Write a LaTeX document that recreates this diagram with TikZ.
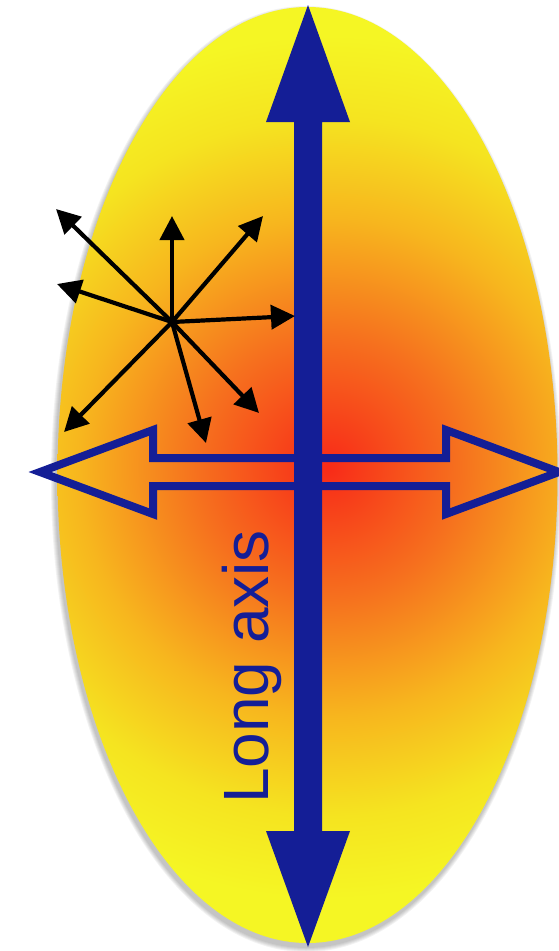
\documentclass[tikz,border=0pt]{standalone}
\usepackage{fontspec}
\setmainfont{Liberation Sans}
\usetikzlibrary{arrows.meta}
\definecolor{axisblue}{RGB}{20,30,150}
\definecolor{eggred}{RGB}{248,42,24}
\definecolor{eggorange}{RGB}{246,112,30}
\definecolor{eggamber}{RGB}{247,182,30}
\definecolor{egglight}{RGB}{245,228,32}
\definecolor{eggyellow}{RGB}{245,246,36}
\pgfdeclareradialshading{eggglow}{\pgfpoint{0bp}{0bp}}{color(0bp)=(eggred);
  color(6.8bp)=(eggorange); color(13bp)=(eggamber); color(18.2bp)=(egglight);
  color(22.5bp)=(eggyellow); color(50bp)=(eggyellow)}

\begin{document}
\begin{tikzpicture}[x=1pt,y=-1pt,
  spoke/.style={line width=4.2pt,-{Triangle[length=24pt,width=24pt]}},
  longaxis/.style={fill=axisblue},
  shortaxis/.style={draw=axisblue,line width=8pt,miter limit=10},
  caption/.style={rotate=90,anchor=base,inner sep=0pt,text=axisblue,
    font=\fontsize{64}{70}\selectfont}
]
\clip (0,0) rectangle (559,951);
\foreach \s in {1,...,5}
  \fill[black,opacity=0.05] (306,479) ellipse ({250+\s} and {468+\s});
\begin{scope}
  \clip (307.5,475) ellipse (250 and 468);
  \shade[shading=eggglow] (-152,-13) rectangle (808,947);
\end{scope}
\draw[shortaxis] (40,472) -- (153,430) -- (153,458) -- (446,458) -- (446,430)
  -- (559,472) -- (446,514) -- (446,486) -- (153,486) -- (153,514) -- cycle;
\fill[longaxis] (308,5) -- (350,122) -- (322,122) -- (322,831) -- (350,831)
  -- (308,947) -- (266,831) -- (294,831) -- (294,122) -- (266,122) -- cycle;
\coordinate (hub) at (172,322);
\foreach \n/\x/\y in {nw/56/209,n/172/216,ne/263/216,w/57/284,e/295/316,
    se/259/413,s/206/443,sw/64/432}{
  \coordinate (tip\n) at (\x,\y);
  \draw[spoke] (hub) -- (tip\n);
}
\node[caption] (label) at (268,667) {Long axis};
\end{tikzpicture}
\end{document}
